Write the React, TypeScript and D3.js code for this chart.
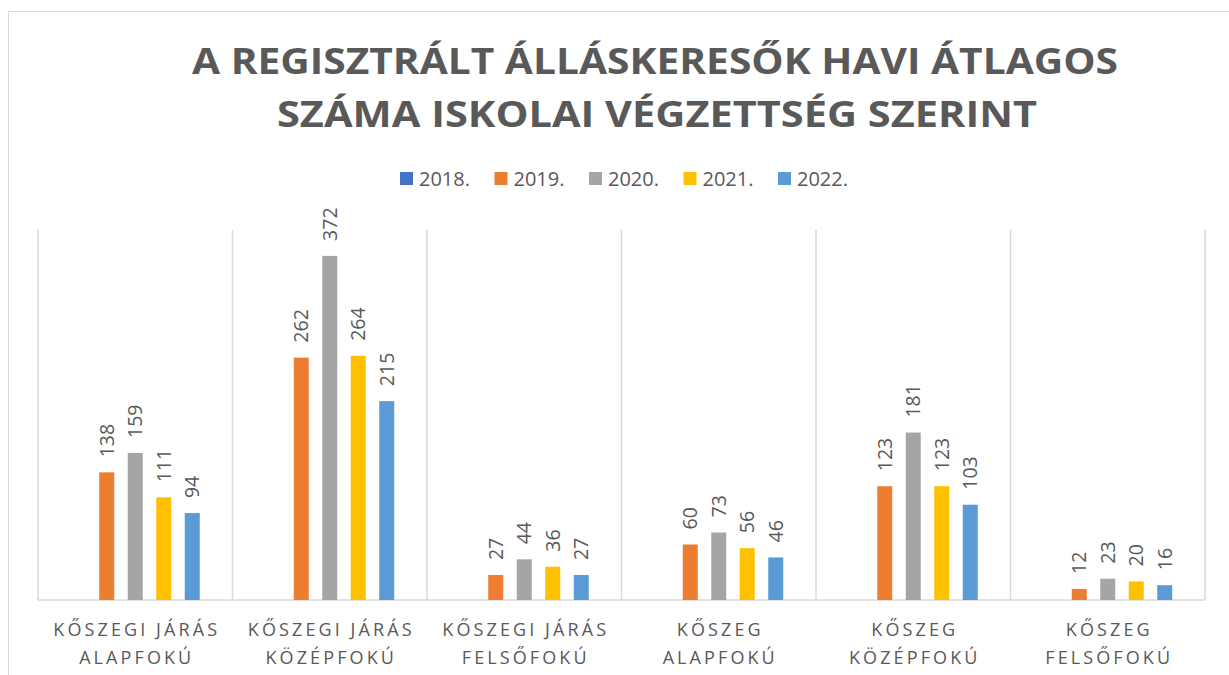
import React from "react";
import * as d3 from "d3";

const categories = [
  ["KŐSZEGI JÁRÁS", "ALAPFOKÚ"],
  ["KŐSZEGI JÁRÁS", "KÖZÉPFOKÚ"],
  ["KŐSZEGI JÁRÁS", "FELSŐFOKÚ"],
  ["KŐSZEG", "ALAPFOKÚ"],
  ["KŐSZEG", "KÖZÉPFOKÚ"],
  ["KŐSZEG", "FELSŐFOKÚ"],
];
const years = ["2018.", "2019.", "2020.", "2021.", "2022."];
const colors = ["#4472C4", "#ED7D31", "#A5A5A5", "#FFC000", "#5B9BD5"];

// 2018 has no values in the source chart
const values2018: (number | null)[] = [null, null, null, null, null, null];
const values2019 = [138, 262, 27, 60, 123, 12];
const values2020 = [159, 372, 44, 73, 181, 23];
const values2021 = [111, 264, 36, 56, 123, 20];
const values2022 = [94, 215, 27, 46, 103, 16];
const series = [values2018, values2019, values2020, values2021, values2022];

const titleLines = [
  "A REGISZTRÁLT ÁLLÁSKERESŐK HAVI ÁTLAGOS",
  "SZÁMA ISKOLAI VÉGZETTSÉG SZERINT",
];

const W = 1229;
const H = 675;
const plot = { left: 38, right: 1205, top: 230, bottom: 600 };
const textColor = "#595959";
const gridColor = "#D9D9D9";
const font = "'Open Sans', 'Noto Sans', sans-serif";

export default function App() {
  const x0 = d3
    .scaleBand<number>()
    .domain(categories.map((_, i) => i))
    .range([plot.left, plot.right])
    .padding(0);
  const x1 = d3
    .scaleBand<string>()
    .domain(years)
    .range([0, x0.bandwidth()])
    .paddingInner(0.474)
    .paddingOuter(1.15);
  const y = d3.scaleLinear().domain([0, 400]).range([plot.bottom, plot.top]);

  const boundaries = categories.map((_, i) => x0(i)!).concat([plot.right]);

  return (
    <svg
      width={W}
      height={H}
      style={{ position: "absolute", left: 0, top: 0, background: "#fff" }}
      fontFamily={font}
    >
      {/* chart area border */}
      <rect x={8.5} y={11.5} width={1240} height={700} fill="#fff" stroke={gridColor} />

      {/* title */}
      <g fill={textColor} fontWeight="bold" fontSize={36}>
        <text x={192} y={74} textLength={926} lengthAdjust="spacingAndGlyphs">
          {titleLines[0]}
        </text>
        <text x={277} y={127} textLength={760} lengthAdjust="spacingAndGlyphs">
          {titleLines[1]}
        </text>
      </g>

      {/* legend */}
      <g fontSize={20} fill={textColor}>
        {years.map((yr, i) => (
          <g key={yr} transform={`translate(${400 + i * 94.5},172)`}>
            <rect width={13} height={13} fill={colors[i]} />
            <text x={19} y={14}>
              {yr}
            </text>
          </g>
        ))}
      </g>

      {/* grid */}
      {boundaries.map((bx, i) => (
        <line
          key={i}
          x1={bx}
          x2={bx}
          y1={plot.top}
          y2={plot.bottom}
          stroke={gridColor}
          strokeWidth={1.5}
        />
      ))}
      <line
        x1={plot.left}
        x2={plot.right}
        y1={plot.bottom}
        y2={plot.bottom}
        stroke={gridColor}
        strokeWidth={1.5}
      />

      {/* bars + labels */}
      {categories.map((_, ci) => (
        <g key={ci} transform={`translate(${x0(ci)},0)`}>
          {series.map((vals, si) => {
            const v = vals[ci];
            if (v == null) return null;
            const bx = x1(years[si])!;
            const cx = bx + x1.bandwidth() / 2;
            const top = y(v);
            return (
              <g key={si}>
                <rect
                  x={bx}
                  y={top}
                  width={x1.bandwidth()}
                  height={plot.bottom - top}
                  fill={colors[si]}
                />
                <text
                  transform={`translate(${cx},${top - 15}) rotate(-90)`}
                  dy="0.36em"
                  fontSize={19.5}
                  fill={textColor}
                >
                  {v}
                </text>
              </g>
            );
          })}
        </g>
      ))}

      {/* category labels */}
      <g fontSize={18} fill={textColor} textAnchor="middle" letterSpacing={3.1}>
        {categories.map((lines, ci) => {
          const cx = x0(ci)! + x0.bandwidth() / 2;
          return (
            <text key={ci} x={cx} y={636}>
              <tspan x={cx + 1.5}>{lines[0]}</tspan>
              <tspan x={cx + 1.5} dy={28}>
                {lines[1]}
              </tspan>
            </text>
          );
        })}
      </g>
    </svg>
  );
}
